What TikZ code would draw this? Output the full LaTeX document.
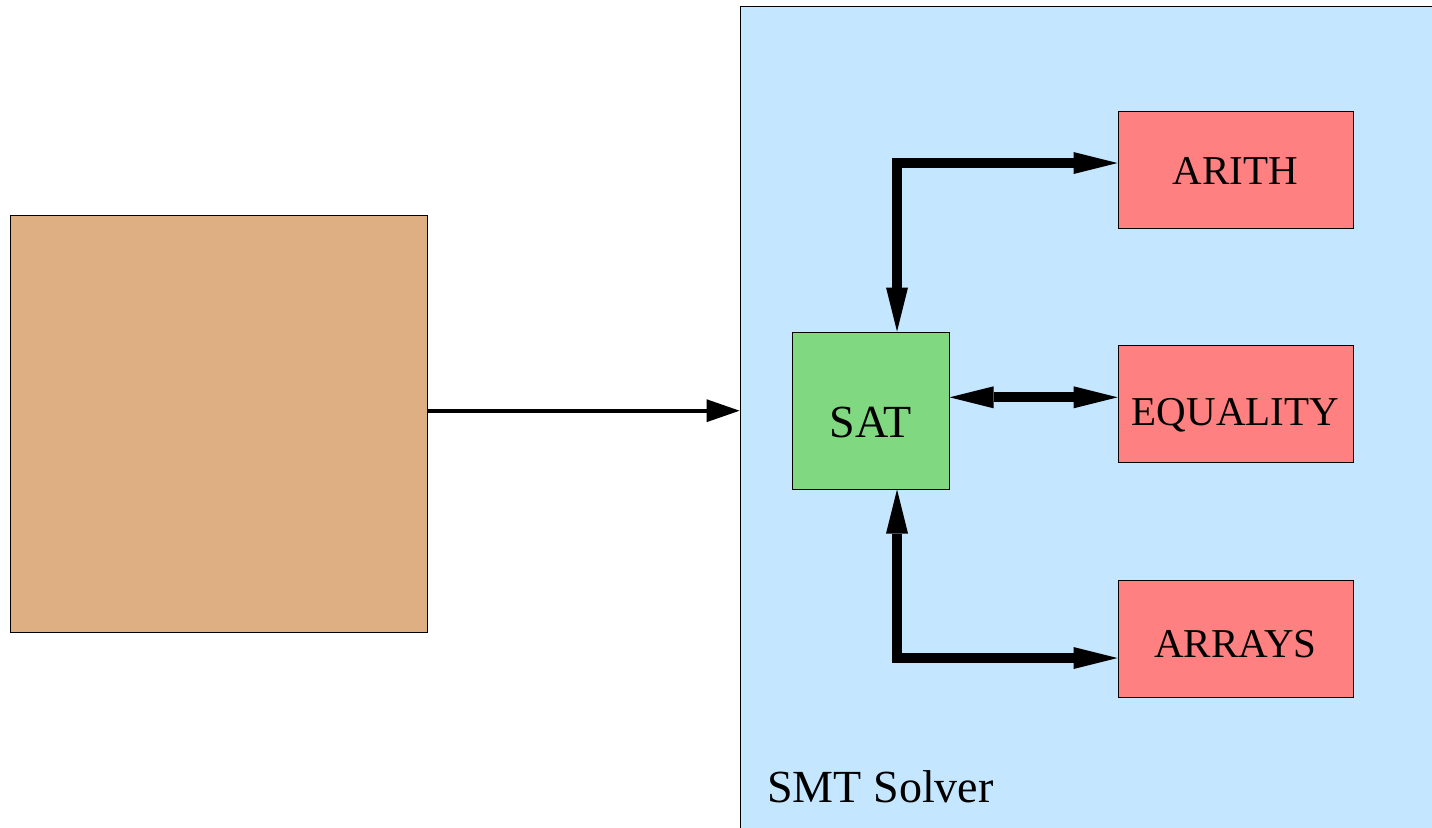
\documentclass[tikz,border=0pt]{standalone}
\usepackage{fontspec}
\setmainfont{Liberation Serif}
\usetikzlibrary{arrows.meta}
\definecolor{brownfill}{RGB}{222,175,130}
\definecolor{bluefill}{RGB}{196,230,255}
\definecolor{greenfill}{RGB}{128,216,128}
\definecolor{redfill}{RGB}{255,128,128}
\tikzset{
  boxbase/.style={draw=black, line width=0.5pt, rectangle, inner sep=0pt, text depth=0pt},
  theory/.style={boxbase, fill=redfill, minimum width=117.5pt, minimum height=58.5pt,
    font=\fontsize{20.5}{24}\selectfont},
  thicklink/.style={line width=5pt, line join=miter,
    {Triangle[length=22pt,width=11pt,line width=0pt]}-{Triangle[length=22pt,width=11pt,line width=0pt]}},
  thinlink/.style={line width=2pt, -{Triangle[length=16.5pt,width=11.5pt,line width=0pt]}}
}
\begin{document}
\begin{tikzpicture}[x=0.5pt, y=-0.5pt]
\useasboundingbox (0,0) rectangle (1432,827);
\clip (0,0) rectangle (1432,827);
\fill[white] (0,0) rectangle (1432,827);
% containers
\node[boxbase, fill=bluefill, minimum width=355pt, minimum height=422pt] (smt) at (1095,428) {};
\node[boxbase, fill=brownfill, minimum width=208.75pt, minimum height=208.5pt] (front) at (218.75,423.5) {};
% inner boxes
\node[boxbase, fill=greenfill, minimum width=78.5pt, minimum height=78.5pt,
      font=\fontsize{23}{27}\selectfont, text height=26.5pt] (sat) at (870.5,410.5) {SAT};
\node[theory, text height=14.8pt] (arith) at (1235.5,169.5) {ARITH};
\node[theory, text height=21pt] (equality) at (1235.5,404) {EQUALITY};
\node[theory, text height=19pt] (arrays) at (1235.5,638.5) {ARRAYS};
\node[anchor=base west, inner sep=0pt, font=\fontsize{23}{27}\selectfont] (smtlabel) at (767,802) {SMT Solver};
% connectors
\draw[thinlink] ([yshift=6.4pt]front.east) -- ([yshift=6.4pt]front.east -| smt.west);
\draw[thicklink] ([yshift=3.25pt]arith.west) -| ([xshift=13.25pt]sat.north);
\draw[thicklink] ([yshift=6.6pt]sat.east) -- ([yshift=6.6pt]sat.east -| equality.west);
\draw[thicklink] ([xshift=13.25pt]sat.south) |- ([yshift=-9.75pt]arrays.west);
\end{tikzpicture}
\end{document}
